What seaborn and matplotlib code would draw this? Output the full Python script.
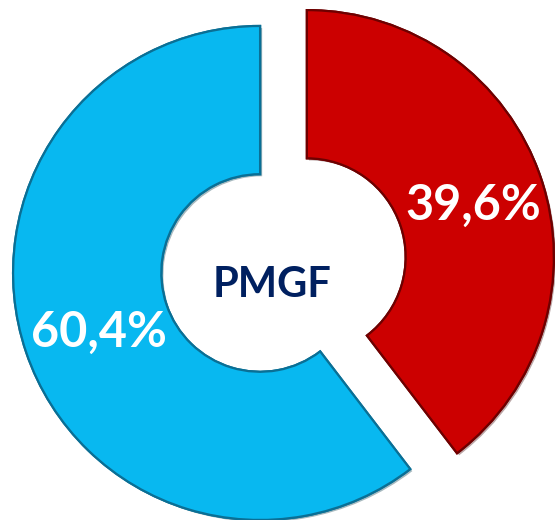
import matplotlib
matplotlib.use("Agg")
import matplotlib.pyplot as plt
import matplotlib.patheffects as pe
import seaborn as sns

# data
labels = ["Outros", "PMGF"]
shares = [60.4, 39.6]
center_label = "PMGF"

sns.set_theme(style="white")
plt.rcParams["font.family"] = ["Lato", "DejaVu Sans"]

colors = sns.color_palette(["#08B8F0", "#CC0000"])
edge_cols = ["#0a6f95", "#6e0000"]

fig = plt.figure(figsize=(5.55, 5.2), dpi=100)
ax = fig.add_axes([0, 0, 1, 1])

wedges, texts, autotexts = ax.pie(
    shares,
    colors=colors,
    startangle=90,
    counterclock=True,
    explode=[0, 0.2],
    radius=1.0,
    wedgeprops=dict(width=0.6, linewidth=1.6),
    autopct=lambda p: f"{p:.1f}%".replace(".", ","),
    pctdistance=0.69,
    textprops=dict(color="white", fontsize=35, fontweight="bold"),
)
for w, ec in zip(wedges, edge_cols):
    w.set_edgecolor(ec)
    w.set_path_effects([pe.withSimplePatchShadow(offset=(1.5, -1.5), alpha=0.35),
                        pe.Normal()])
# nudge the labels slightly to match the original placement
autotexts[0].set_y(autotexts[0].get_position()[1] - 0.02)
autotexts[1].set_x(autotexts[1].get_position()[0] + 0.02)
autotexts[1].set_y(autotexts[1].get_position()[1] - 0.01)

ax.text(0.05, -0.05, center_label, ha="center", va="center",
        fontsize=30, fontweight="bold", color="#002060")

ax.set_xlim(-1.053, 1.194)
ax.set_ylim(-1.0, 1.105)
ax.set_aspect("equal")
ax.axis("off")

fig.savefig("out.png", dpi=100, facecolor="white")
